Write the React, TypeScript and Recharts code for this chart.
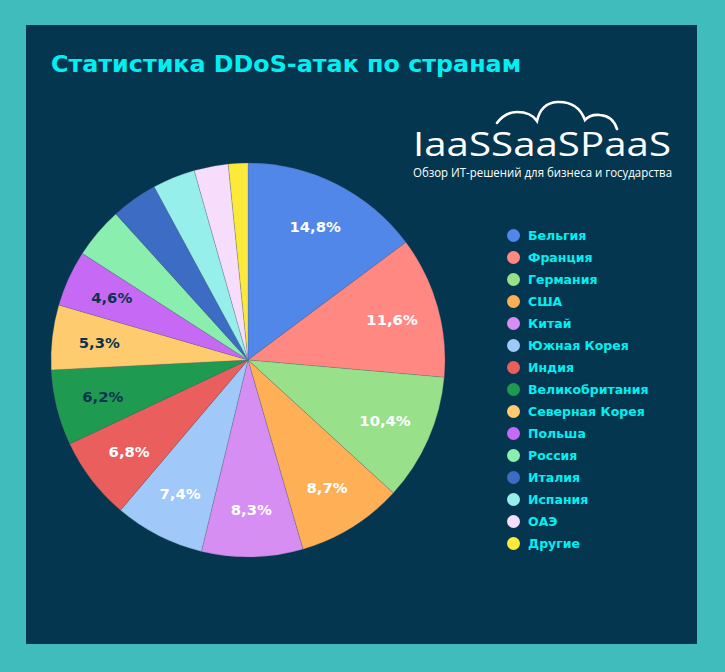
import React from "react";
import { PieChart, Pie, Cell, Legend } from "recharts";

const countries = [
  "Бельгия",
  "Франция",
  "Германия",
  "США",
  "Китай",
  "Южная Корея",
  "Индия",
  "Великобритания",
  "Северная Корея",
  "Польша",
  "Россия",
  "Италия",
  "Испания",
  "ОАЭ",
  "Другие",
];

const shares = [14.8, 11.6, 10.4, 8.7, 8.3, 7.4, 6.8, 6.2, 5.3, 4.6, 4.2, 3.8, 3.5, 2.8, 1.6];

const sliceColors = [
  "#5187e9",
  "#ff8883",
  "#99e08a",
  "#ffb057",
  "#d78ef3",
  "#a0c8f8",
  "#eb5e5e",
  "#1f9a51",
  "#ffcb6f",
  "#c66af5",
  "#89eeae",
  "#3d6cc4",
  "#97efec",
  "#f6ddfb",
  "#fcea3a",
];

// labels on these slices are drawn dark instead of white
const darkLabels = ["Великобритания", "Северная Корея", "Польша"];

const PANEL = "#04364f";
const CYAN = "#00f0f2";

const data = countries.map((name, i) => ({ name, value: shares[i] }));

const RADIAN = Math.PI / 180;

const renderLabel = (props: any) => {
  const { cx, cy, midAngle, outerRadius, value, name } = props;
  if (value < 4.5) return null;
  const r = outerRadius * 0.76;
  const x = cx + r * Math.cos(-midAngle * RADIAN);
  const y = cy + r * Math.sin(-midAngle * RADIAN);
  return (
    <text
      x={x}
      y={y}
      textAnchor="middle"
      dominantBaseline="central"
      fill={darkLabels.includes(name) ? "#0c3450" : "#ffffff"}
      fontFamily="DejaVu Sans, Verdana, sans-serif"
      fontWeight="bold"
      fontSize={14.8}
    >
      {value.toFixed(1).replace(".", ",")}%
    </text>
  );
};

const renderLegend = () => (
  <div>
    {countries.map((c, i) => (
      <div key={c} style={{ display: "flex", alignItems: "center", height: 22 }}>
        <span
          style={{
            display: "inline-block",
            width: 13,
            height: 13,
            borderRadius: "50%",
            background: sliceColors[i],
            marginRight: 8,
          }}
        />
        <span
          style={{
            color: CYAN,
            fontFamily: "DejaVu Sans, Verdana, sans-serif",
            fontWeight: "bold",
            fontSize: 12.5,
          }}
        >
          {c}
        </span>
      </div>
    ))}
  </div>
);

const Logo = () => (
  <svg width={300} height={90} style={{ position: "absolute", left: 384, top: 72 }}>
    <g transform="translate(-410,-97)">
      <path
        d="M497,123 Q505,112 517,112 Q531,112 537,121 Q541,103 557,102 Q578,101 585,120 Q590,114 600,115 Q613,116 617,129"
        fill="none"
        stroke="#ffffff"
        strokeWidth={2.6}
        strokeLinecap="round"
      />
      <text
        x={413}
        y={156}
        fill="#ffffff"
        fontFamily="'Open Sans', sans-serif"
        fontWeight={400}
        fontSize={33}
        textLength={258}
        lengthAdjust="spacingAndGlyphs"
      >
        IaaSSaaSPaaS
      </text>
      <text
        x={413}
        y={177}
        fill="#ffffff"
        fontFamily="'Open Sans', sans-serif"
        fontSize={12.5}
        textLength={259}
        lengthAdjust="spacingAndGlyphs"
      >
        Обзор ИТ-решений для бизнеса и государства
      </text>
    </g>
  </svg>
);

export default function App() {
  return (
    <div
      style={{
        position: "absolute",
        left: 0,
        top: 0,
        width: 725,
        height: 672,
        background: "#3fbcbb",
      }}
    >
      <div
        style={{
          position: "absolute",
          left: 26,
          top: 25,
          width: 671,
          height: 619,
          background: PANEL,
        }}
      >
        <div
          style={{
            position: "absolute",
            left: 25,
            top: 25,
            color: CYAN,
            fontFamily: "DejaVu Sans, Verdana, sans-serif",
            fontWeight: "bold",
            fontSize: 23.8,
            whiteSpace: "nowrap",
          }}
        >
          Статистика DDoS-атак по странам
        </div>
        <Logo />
        <PieChart
          width={671}
          height={619}
          margin={{ top: 0, right: 0, bottom: 0, left: 0 }}
          style={{ position: "absolute", left: 0, top: 0 }}
        >
          <Pie
            data={data}
            dataKey="value"
            nameKey="name"
            cx={222}
            cy={335}
            outerRadius={197}
            startAngle={90}
            endAngle={-270}
            stroke="rgba(90,100,110,0.5)"
            strokeWidth={0.5}
            labelLine={false}
            label={renderLabel}
            isAnimationActive={false}
          >
            {data.map((d, i) => (
              <Cell key={d.name} fill={sliceColors[i]} />
            ))}
          </Pie>
          <Legend
            content={renderLegend}
            layout="vertical"
            wrapperStyle={{ position: "absolute", left: 481, top: 199, width: 180 }}
          />
        </PieChart>
      </div>
    </div>
  );
}
